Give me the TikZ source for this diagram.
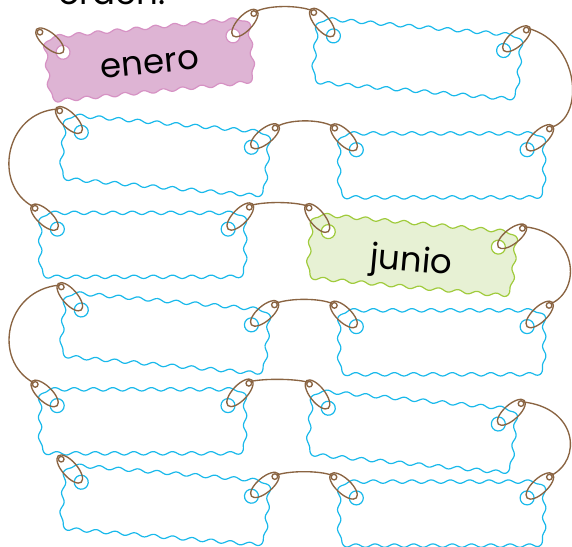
\documentclass[tikz,border=0pt]{standalone}
\usepackage{fontspec}
\setmainfont{Poppins}
\definecolor{tagblue}{RGB}{25,185,235}
\definecolor{ropecol}{RGB}{138,100,66}
\definecolor{pinkfill}{RGB}{222,180,212}
\definecolor{pinkline}{RGB}{214,146,196}
\definecolor{greenfill}{RGB}{231,241,212}
\definecolor{greenline}{RGB}{160,203,60}
\tikzset{
  bluetag/.style={draw=tagblue, fill=white, line width=1.2pt, line join=round},
  pinktag/.style={draw=pinkline, fill=pinkfill, line width=1.2pt, line join=round},
  greentag/.style={draw=greenline, fill=greenfill, line width=1.2pt, line join=round},
  bluehole/.style={draw=tagblue, line width=1.2pt},
  pinkhole/.style={draw=pinkline, fill=white, line width=1.2pt},
  greenhole/.style={draw=greenline, fill=white, line width=1.2pt},
  ropeline/.style={draw=ropecol, line width=1.35pt},
  label/.style={font=\fontsize{34}{40}\selectfont, anchor=base, transform shape, inner sep=0pt},
}
\def\wA{1.7}
\def\wk{18.663}
% wavy rounded rectangle centred at the origin (205 x 64)
\newcommand\wavyrect[1]{%
 \path[#1] plot[domain=0:185, samples=100] ({\x-92.5},{-32-\wA*sin(\wk*\x)})
 -- plot[domain=0:90, samples=12] ({92.5+(10+\wA*sin(\wk*(185+0.174533*\x)))*cos(\x-90)},{-22+(10+\wA*sin(\wk*(185+0.174533*\x)))*sin(\x-90)})
 -- plot[domain=0:44, samples=25] ({102.5+\wA*sin(\wk*(200.708+\x))},{-22+\x})
 -- plot[domain=0:90, samples=12] ({92.5+(10+\wA*sin(\wk*(244.708+0.174533*\x)))*cos(\x)},{22+(10+\wA*sin(\wk*(244.708+0.174533*\x)))*sin(\x)})
 -- plot[domain=0:185, samples=100] ({92.5-\x},{32+\wA*sin(\wk*(260.416+\x))})
 -- plot[domain=0:90, samples=12] ({-92.5+(10+\wA*sin(\wk*(445.416+0.174533*\x)))*cos(90+\x)},{22+(10+\wA*sin(\wk*(445.416+0.174533*\x)))*sin(90+\x)})
 -- plot[domain=0:44, samples=25] ({-102.5-\wA*sin(\wk*(461.124+\x))},{22-\x})
 -- plot[domain=0:90, samples=12] ({-92.5+(10+\wA*sin(\wk*(505.124+0.174533*\x)))*cos(180+\x)},{-22+(10+\wA*sin(\wk*(505.124+0.174533*\x)))*sin(180+\x)})
 -- cycle;}
% #1 hole midpoint, #2 angle, #3 tag style, #4 name, #5 hole style
\newcommand\maketag[5]{%
  \begin{scope}[shift={#1}, rotate=#2]
    \begin{scope}[shift={(0,15.7)}]
      \wavyrect{#3}
    \end{scope}
    \draw[#5] (-85.4,0) circle[radius=7];
    \draw[#5] (85.4,0) circle[radius=7];
    \coordinate (#4a) at (-85.4,0);
    \coordinate (#4b) at (85.4,0);
  \end{scope}}
% #1 hole coordinate, #2 angle, #3 knot name
\newcommand\ringloop[3]{%
  \begin{scope}[shift={(#1)}, rotate=#2]
    \draw[ropeline] (17.5,0) ellipse[x radius=17.5, y radius=7.5];
    \draw[ropeline] (30.5,0) circle[radius=2.8];
    \coordinate (#3) at (33,0);
  \end{scope}}
\begin{document}
\begin{tikzpicture}[x=1pt, y=-1pt]
\useasboundingbox (0,0) rectangle (572,546);
\node[font=\fontsize{34}{40}\selectfont, anchor=base west, inner sep=0pt] (title) at (58,5) {orden.};

\maketag{(148,44.05)}{5.5}{pinktag}{t1}{pinkhole}
\maketag{(418.5,43.2)}{-4.9}{bluetag}{t2}{bluehole}
\maketag{(166.35,139.8)}{-5}{bluetag}{t3}{bluehole}
\maketag{(441.7,149.7)}{0}{bluetag}{t4}{bluehole}
\maketag{(142.75,229.1)}{0}{bluetag}{t5}{bluehole}
\maketag{(413.3,239.35)}{-5.2}{greentag}{t6}{greenhole}
\maketag{(166.35,317.4)}{-5}{bluetag}{t7}{bluehole}
\maketag{(441.7,326.6)}{0}{bluetag}{t8}{bluehole}
\maketag{(142.6,405.6)}{0}{bluetag}{t9}{bluehole}
\maketag{(413.3,416.1)}{-5.3}{bluetag}{t10}{bluehole}
\maketag{(166.35,489.2)}{-4.7}{bluetag}{t11}{bluehole}
\maketag{(441.7,497.9)}{0}{bluetag}{t12}{bluehole}

\begin{scope}[shift={(148,44.05)}, rotate=5.5]
  \node[label] (enero) at (0,29.5) {enero};
\end{scope}
\begin{scope}[shift={(413.3,239.35)}, rotate=-5.2]
  \node[label] (junio) at (0,32) {junio};
\end{scope}

\ringloop{t1a}{139}{k1a}
\ringloop{t1b}{47}{k1b}
\ringloop{t2a}{130}{k2a}
\ringloop{t2b}{42}{k2b}
\ringloop{t3a}{135}{k3a}
\ringloop{t3b}{39}{k3b}
\ringloop{t4a}{135}{k4a}
\ringloop{t4b}{43}{k4b}
\ringloop{t5a}{137}{k5a}
\ringloop{t5b}{46}{k5b}
\ringloop{t6a}{129}{k6a}
\ringloop{t6b}{38}{k6b}
\ringloop{t7a}{131}{k7a}
\ringloop{t7b}{41}{k7b}
\ringloop{t8a}{136}{k8a}
\ringloop{t8b}{44}{k8b}
\ringloop{t9a}{136}{k9a}
\ringloop{t9b}{47}{k9b}
\ringloop{t10a}{128}{k10a}
\ringloop{t10b}{42}{k10b}
\ringloop{t11a}{131}{k11a}
\ringloop{t11b}{40}{k11b}
\ringloop{t12a}{137}{k12a}
\ringloop{t12b}{43}{k12b}

\draw[ropeline] (k1b) .. controls (268,5) and (298,5) .. (k2a);
\draw[ropeline] (k2b) .. controls (580,42) and (585,118) .. (k4b);
\draw[ropeline] (k3a) .. controls (5,112) and (-8,185) .. (k5a);
\draw[ropeline] (k3b) .. controls (290,119) and (320,119) .. (k4a);
\draw[ropeline] (k5b) .. controls (264,201.5) and (294,201.5) .. (k6a);
\draw[ropeline] (k6b) .. controls (578,232) and (582,290) .. (k8b);
\draw[ropeline] (k8a) .. controls (320,298) and (290,298) .. (k7b);
\draw[ropeline] (k7a) .. controls (5,290) and (-8,360) .. (k9a);
\draw[ropeline] (k9b) .. controls (264,378.5) and (294,378.5) .. (k10a);
\draw[ropeline] (k10b) .. controls (578,408) and (582,460) .. (k12b);
\draw[ropeline] (k12a) .. controls (320,470.5) and (290,470.5) .. (k11b);
\end{tikzpicture}
\end{document}
